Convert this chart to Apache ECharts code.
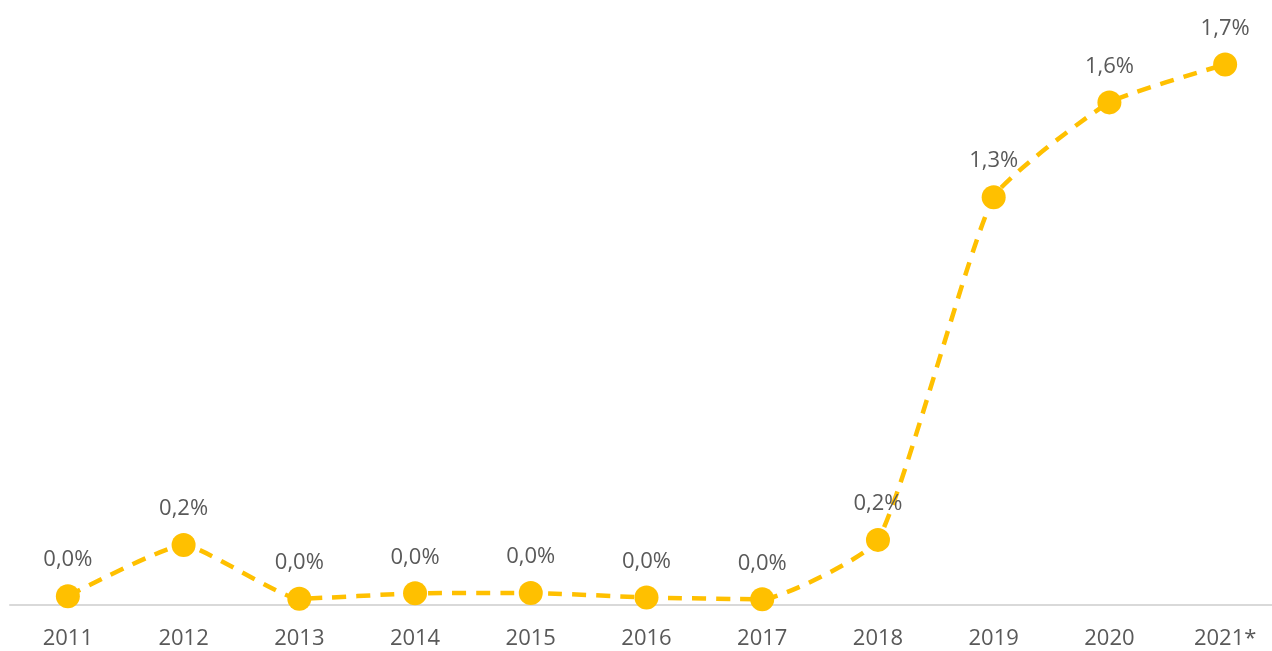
<!DOCTYPE html>
<html>
<head>
<meta charset="utf-8">
<script src="https://cdn.jsdelivr.net/npm/echarts@6/dist/echarts.min.js"></script>
<style>html,body{margin:0;padding:0;background:#fff;overflow:hidden;width:1272px;height:651px}#c{width:1283px;height:651px}</style>
</head>
<body>
<div id="c"></div>
<script>
const categories = ['2011','2012','2013','2014','2015','2016','2017','2018','2019','2020','2021*'];
const shareValues = [0.028, 0.19, 0.020, 0.037, 0.038, 0.024, 0.018, 0.206, 1.29, 1.59, 1.71];

const chart = echarts.init(document.getElementById('c'), null, {renderer: 'canvas'});
const font = '"Open Sans", sans-serif';
chart.setOption({
  animation: false,
  backgroundColor: '#ffffff',
  grid: {left: 10, right: 0, top: 36, bottom: 46, containLabel: false},
  xAxis: {
    type: 'category',
    data: categories,
    boundaryGap: true,
    axisLine: {lineStyle: {color: '#d9d9d9', width: 2}},
    axisTick: {show: false},
    axisLabel: {color: '#595959', fontSize: 22, fontFamily: font, margin: 23}
  },
  yAxis: {
    type: 'value', min: 0, max: 1.8,
    show: false,
    splitLine: {show: false}
  },
  series: [{
    type: 'line',
    data: shareValues,
    smooth: 0.15,
    symbol: 'circle',
    symbolSize: 24,
    itemStyle: {color: '#FFC000'},
    lineStyle: {color: '#FFC000', width: 4.5, type: [14, 10]},
    label: {
      show: true, position: 'top', distance: 13,
      color: '#595959', fontSize: 22, fontFamily: font,
      formatter: p => p.value.toFixed(1).replace('.', ',') + '%'
    }
  }]
});
</script>
</body>
</html>
